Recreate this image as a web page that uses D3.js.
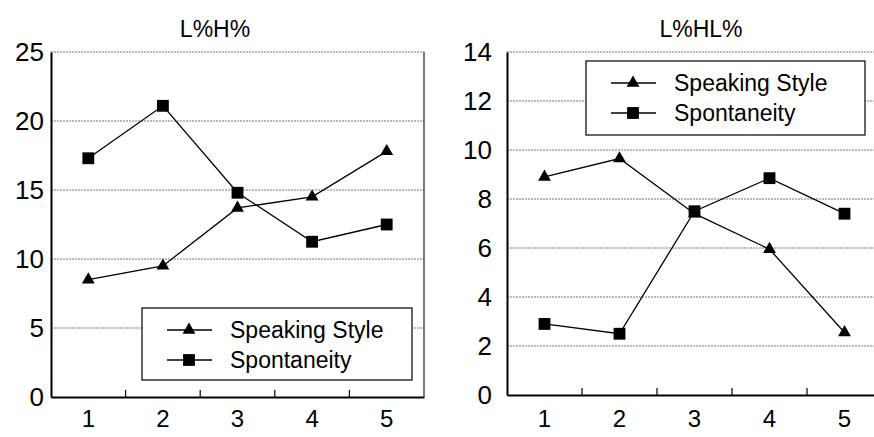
<!DOCTYPE html>
<html>
<head>
<meta charset="utf-8">
<script src="https://cdn.jsdelivr.net/npm/d3@7"></script>
<style>
  body { margin: 0; background: #fff; }
  svg { display: block; font-family: "Liberation Sans", Arial, sans-serif; }
  .grid line { stroke: #777; stroke-dasharray: 2,1; stroke-width: 1; }
</style>
</head>
<body>
<div id="chart"></div>
<script>
// data
const categories = [1, 2, 3, 4, 5];
const seriesNames = ["Speaking Style", "Spontaneity"];

const lhSpeaking = [8.5, 9.5, 13.7, 14.5, 17.8];
const lhSpontaneity = [17.3, 21.1, 14.8, 11.25, 12.5];
const lhTicks = [0, 5, 10, 15, 20, 25];

const lhlSpeaking = [8.9, 9.65, 7.4, 5.95, 2.55];
const lhlSpontaneity = [2.9, 2.5, 7.5, 8.85, 7.4];
const lhlTicks = [0, 2, 4, 6, 8, 10, 12, 14];

const svg = d3.select("#chart").append("svg")
    .attr("width", 874)
    .attr("height", 437);

const symbols = [d3.symbol().type(d3.symbolTriangle).size(72)(), d3.symbol().type(d3.symbolSquare).size(140)()];

function drawPanel(cfg) {
    const g = svg.append("g");

    const x = d3.scaleBand()
        .domain(categories)
        .range([cfg.left, cfg.right])
        .padding(0);

    const y = d3.scaleLinear()
        .domain([0, d3.max(cfg.ticks)])
        .range([cfg.bottom, cfg.top]);

    // gridlines
    g.append("g").attr("class", "grid")
        .selectAll("line")
        .data(cfg.ticks.filter(t => t > 0))
        .enter().append("line")
        .attr("x1", cfg.left).attr("x2", cfg.right)
        .attr("y1", d => y(d)).attr("y2", d => y(d));

    // right border
    g.append("line")
        .attr("x1", cfg.right).attr("x2", cfg.right)
        .attr("y1", cfg.top).attr("y2", cfg.bottom)
        .attr("stroke", "#222").attr("stroke-width", 1.2);

    // y axis
    const yAxis = g.append("g")
        .attr("transform", "translate(" + cfg.left + ",0)")
        .call(d3.axisLeft(y).tickValues(cfg.ticks).tickSize(0).tickPadding(cfg.yPad));
    yAxis.select(".domain").attr("stroke", "#000").attr("stroke-width", 2);
    yAxis.selectAll("text")
        .attr("font-size", 26)
        .attr("font-family", "Liberation Sans, Arial, sans-serif")
        .attr("fill", "#000");

    // x axis
    const xAxis = g.append("g")
        .attr("transform", "translate(0," + cfg.bottom + ")")
        .call(d3.axisBottom(x).tickSize(0).tickPadding(cfg.xPad));
    xAxis.select(".domain").attr("stroke", "#000").attr("stroke-width", 2);
    xAxis.selectAll("text")
        .attr("font-size", 24)
        .attr("font-family", "Liberation Sans, Arial, sans-serif")
        .attr("fill", "#000");

    // category boundary ticks pointing inward
    g.selectAll(".xtick")
        .data(categories.slice(1))
        .enter().append("line")
        .attr("class", "xtick")
        .attr("x1", d => x(d)).attr("x2", d => x(d))
        .attr("y1", cfg.bottom).attr("y2", cfg.bottom - 7)
        .attr("stroke", "#000").attr("stroke-width", 1.2);

    // title
    g.append("text")
        .attr("x", cfg.titleX).attr("y", 37)
        .attr("text-anchor", "middle")
        .attr("font-size", 23)
        .text(cfg.title);

    const line = d3.line()
        .x((d, i) => x(categories[i]) + x.bandwidth() / 2)
        .y(d => y(d));

    cfg.series.forEach((vals, s) => {
        g.append("path")
            .datum(vals)
            .attr("fill", "none")
            .attr("stroke", "#000")
            .attr("stroke-width", 1.3)
            .attr("d", line);

        g.selectAll(".m" + s)
            .data(vals)
            .enter().append("path")
            .attr("class", "m" + s)
            .attr("d", symbols[s])
            .attr("fill", "#000")
            .attr("transform", (d, i) => "translate(" + (x(categories[i]) + x.bandwidth() / 2) + "," + y(d) + ")");
    });

    // legend
    const lg = g.append("g");
    lg.append("rect")
        .attr("x", cfg.legend.x).attr("y", cfg.legend.y)
        .attr("width", cfg.legend.w).attr("height", cfg.legend.h)
        .attr("fill", "#fff").attr("stroke", "#000").attr("stroke-width", 1.2);

    seriesNames.forEach((name, s) => {
        const ry = cfg.legend.y + 22 + s * 30;
        const lx = cfg.legend.x + 25;
        lg.append("line")
            .attr("x1", lx).attr("x2", lx + 45)
            .attr("y1", ry).attr("y2", ry)
            .attr("stroke", "#000").attr("stroke-width", 1.3);
        lg.append("path")
            .attr("d", symbols[s])
            .attr("fill", "#000")
            .attr("transform", "translate(" + (lx + 22) + "," + ry + ")");
        lg.append("text")
            .attr("x", lx + 63).attr("y", ry + 8)
            .attr("font-size", 23)
            .text(name);
    });
}

drawPanel({
    title: "L%H%", titleX: 215,
    left: 51, right: 424, top: 52, bottom: 397, yPad: 7, xPad: 13,
    ticks: lhTicks,
    series: [lhSpeaking, lhSpontaneity],
    legend: { x: 142, y: 308, w: 270, h: 72 }
});

drawPanel({
    title: "L%HL%", titleX: 701,
    left: 507, right: 882, top: 52, bottom: 395, yPad: 15, xPad: 15,
    ticks: lhlTicks,
    series: [lhlSpeaking, lhlSpontaneity],
    legend: { x: 586, y: 61, w: 279, h: 74 }
});
</script>
</body>
</html>
